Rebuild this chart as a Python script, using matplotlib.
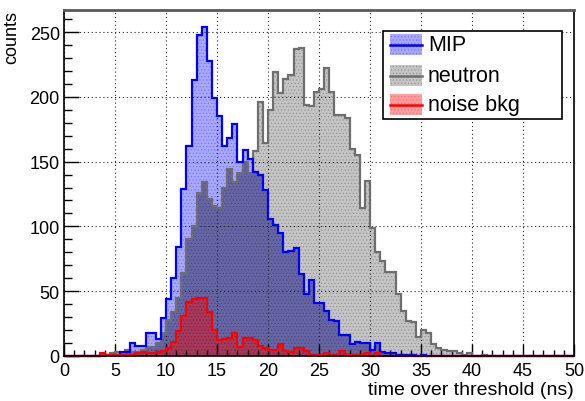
import numpy as np
import matplotlib.pyplot as plt
from matplotlib.patches import Rectangle
from matplotlib.lines import Line2D
from matplotlib.ticker import MultipleLocator

plt.rcParams['font.family'] = ['Liberation Sans', 'DejaVu Sans']
plt.rcParams['hatch.linewidth'] = 0.4

# 0.5 ns bins, 0 - 50 ns
edges = np.arange(0, 50.5, 0.5)
start = 3.5   # first filled bin, everything below is empty

mip_counts = [0, 1, 1, 1, 3, 3, 10, 8, 8, 18, 18, 13, 29, 44, 60, 84, 129, 162, 213, 248,
              254, 228, 199, 185, 162, 168, 179, 150, 159, 152, 142, 140, 128, 106, 101, 95,
              80, 81, 83, 63, 48, 59, 41, 41, 35, 28, 27, 16, 16, 9, 11, 10, 10, 5, 10, 3,
              2, 2, 1, 1, 1, 1, 0, 1]
neutron_counts = [1, 1, 2, 3, 2, 5, 3, 3, 5, 7, 7, 10, 18, 28, 34, 45, 64, 90, 100, 126,
                  134, 121, 116, 114, 130, 144, 134, 141, 150, 141, 158, 196, 164, 190, 219,
                  203, 214, 217, 237, 238, 194, 193, 204, 206, 222, 204, 186, 186, 184, 160,
                  155, 114, 135, 99, 80, 73, 65, 65, 48, 35, 27, 26, 15, 20, 18, 9, 6, 5, 4,
                  4, 2, 1, 2, 0, 0, 1]
noise_counts = [2, 1, 1, 1, 1, 1, 1, 2, 3, 2, 2, 3, 4, 6, 11, 19, 31, 42, 44, 45, 45, 34, 20,
                12, 13, 14, 18, 7, 14, 14, 12, 8, 6, 5, 5, 9, 4, 3, 6, 6, 4, 1, 1, 1, 2, 1, 1,
                4, 1, 1, 1, 1, 2, 0, 2]

labels = ['MIP', 'neutron', 'noise bkg']
colors = ['#0000ff', '#6e6e6e', '#ff0000']
# dotted-pattern look: light tone + darker dots
tones = ['#a8a8ff', '#c4c4c4', '#ffa0a0']
dots = ['#6a6aff', '#8c8c8c', '#ff6060']
overlap_tone = '#6565a4'
overlap_dots = '#45457e'


def full(vals):
    h = np.zeros(len(edges) - 1)
    i0 = int(round(start / 0.5))
    h[i0:i0 + len(vals)] = vals
    return h


h_mip, h_neu, h_noise = full(mip_counts), full(neutron_counts), full(noise_counts)

fig = plt.figure(figsize=(5.85, 4.02), dpi=100)
ax = fig.add_axes([64 / 585, 45 / 402, 510 / 585, 346 / 402])

ax.grid(True, which='major', color='0.15', linestyle=(0, (1, 2.5)), linewidth=0.8)
ax.set_axisbelow('line')

ax.stairs(h_neu, edges, fill=True, facecolor=tones[1], edgecolor=dots[1], hatch='.....',
          linewidth=0, zorder=1)
ax.stairs(h_mip, edges, fill=True, facecolor=tones[0], edgecolor=dots[0], hatch='.....',
          linewidth=0, zorder=1)
ax.stairs(np.minimum(h_mip, h_neu), edges, fill=True, facecolor=overlap_tone,
          edgecolor=overlap_dots, hatch='.....', linewidth=0, zorder=1)
ax.stairs(h_noise, edges, fill=True, facecolor=(0.95, 0, 0, 0.42), edgecolor=(0.8, 0, 0, 0.45),
          hatch='.....', linewidth=0, zorder=1.2)

ax.stairs(h_neu, edges, color=colors[1], linewidth=1.6, clip_on=False, zorder=2)
ax.stairs(h_mip, edges, color=colors[0], linewidth=1.6, clip_on=False, zorder=2)
ax.stairs(h_noise, edges, color=colors[2], linewidth=1.6, clip_on=False, zorder=2.1)

ax.set_xlim(0, 50)
ax.set_ylim(0, 267)
ax.xaxis.set_major_locator(MultipleLocator(5))
ax.xaxis.set_minor_locator(MultipleLocator(1))
ax.yaxis.set_major_locator(MultipleLocator(50))
ax.yaxis.set_minor_locator(MultipleLocator(10))
ax.tick_params(which='both', direction='in', top=False, right=False, labelsize=13)
ax.tick_params(axis='x', which='major', length=9, width=1, pad=4)
ax.tick_params(axis='x', which='minor', length=4.5, width=1)
ax.tick_params(axis='y', which='major', length=11, width=1, pad=3)
ax.tick_params(axis='y', which='minor', length=5.5, width=1)
for s in ax.spines.values():
    s.set_linewidth(1.2)
    s.set_zorder(3)
ax.spines['top'].set_color('0.35')
ax.spines['top'].set_linewidth(2)

ax.set_xlabel('time over threshold (ns)', fontsize=14, loc='right', labelpad=2)
ax.set_ylabel('counts', fontsize=13, loc='top')
ax.yaxis.set_label_coords(-0.086, 1.0)

# legend box (ROOT style)
lx0, lx1, ly0, ly1 = 383, 562, 32, 120
fig.add_artist(Rectangle((lx0 / 585, 1 - ly1 / 402), (lx1 - lx0) / 585, (ly1 - ly0) / 402,
                         transform=fig.transFigure, facecolor='white', edgecolor='k',
                         linewidth=1.2, zorder=5))
rows = [45.7, 76.7, 105.7]
for lab, c, t, d, yc in zip(labels, colors, tones, dots, rows):
    fig.add_artist(Rectangle((390 / 585, 1 - (yc + 10.5) / 402), 32 / 585, 21 / 402,
                             transform=fig.transFigure, facecolor=t, edgecolor=d,
                             hatch='.....', linewidth=0, zorder=6))
    fig.add_artist(Line2D([390 / 585, 422 / 585], [1 - yc / 402] * 2, transform=fig.transFigure,
                          color=c, linewidth=1.8, zorder=7))
    fig.text(428 / 585, 1 - yc / 402, lab, fontsize=15.5, va='center', ha='left', zorder=7)

fig.savefig('out.png', dpi=100)
